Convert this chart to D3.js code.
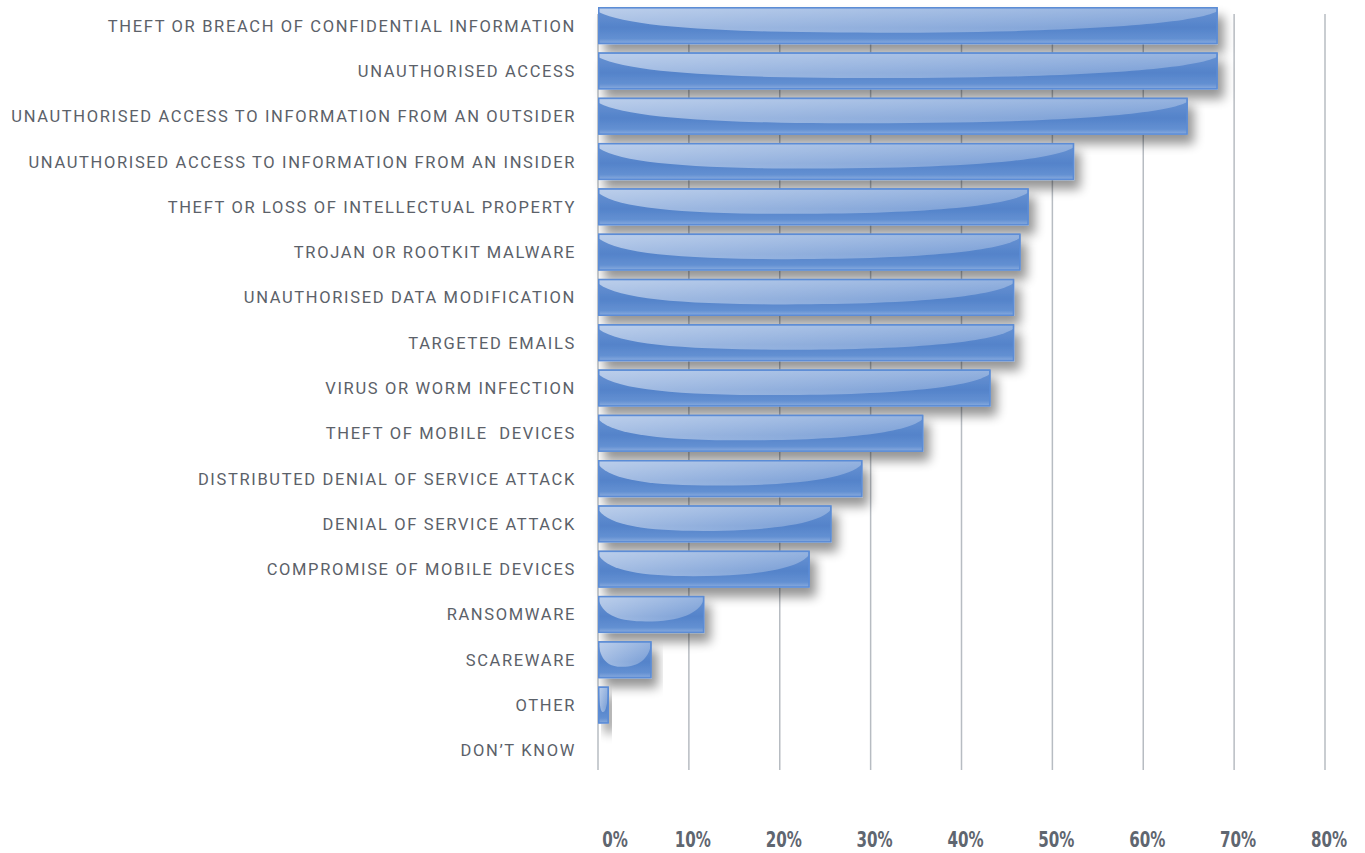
<!DOCTYPE html>
<html>
<head>
<meta charset="utf-8">
<script src="https://cdn.jsdelivr.net/npm/d3@7"></script>
<style>
  html, body { margin: 0; padding: 0; background: #ffffff; }
  svg { display: block; }
</style>
</head>
<body>
<svg id="chart" width="1365" height="853"></svg>
<script>
// Incident types, top to bottom
const categories = [
  "THEFT OR BREACH OF CONFIDENTIAL INFORMATION",
  "UNAUTHORISED ACCESS",
  "UNAUTHORISED ACCESS TO INFORMATION FROM AN OUTSIDER",
  "UNAUTHORISED ACCESS TO INFORMATION FROM AN INSIDER",
  "THEFT OR LOSS OF INTELLECTUAL PROPERTY",
  "TROJAN OR ROOTKIT MALWARE",
  "UNAUTHORISED DATA MODIFICATION",
  "TARGETED EMAILS",
  "VIRUS OR WORM INFECTION",
  "THEFT OF MOBILE  DEVICES",
  "DISTRIBUTED DENIAL OF SERVICE ATTACK",
  "DENIAL OF SERVICE ATTACK",
  "COMPROMISE OF MOBILE DEVICES",
  "RANSOMWARE",
  "SCAREWARE",
  "OTHER",
  "DON\u2019T KNOW"
];

// Share of respondents (%)
const values = [68.2, 68.2, 64.9, 52.4, 47.4, 46.5, 45.8, 45.8, 43.2, 35.8, 29.1, 25.7, 23.3, 11.7, 5.9, 1.2, 0];

// Axis ticks
const tickValues = [0, 10, 20, 30, 40, 50, 60, 70, 80];
const tickLabels = ["0%", "10%", "20%", "30%", "40%", "50%", "60%", "70%", "80%"];

const data = categories.map((c, i) => ({ category: c, value: values[i] }));

const svg = d3.select("#chart");

const x = d3.scaleLinear().domain([0, 80]).range([598, 1325]);
const y = d3.scaleBand().domain(categories).range([3, 773]).paddingInner(0.18).paddingOuter(0.09);

const defs = svg.append("defs");

// soft drop shadow under the bars
const shadow = defs.append("filter").attr("id", "barShadow")
  .attr("x", "-20%").attr("y", "-40%").attr("width", "140%").attr("height", "200%");
shadow.append("feGaussianBlur").attr("in", "SourceAlpha").attr("stdDeviation", 5.5).attr("result", "blur");
shadow.append("feOffset").attr("in", "blur").attr("dx", 6).attr("dy", 9).attr("result", "off");
shadow.append("feComponentTransfer").attr("in", "off").attr("result", "shade")
  .append("feFuncA").attr("type", "linear").attr("slope", 0.42);
const merge = shadow.append("feMerge");
merge.append("feMergeNode").attr("in", "shade");
merge.append("feMergeNode").attr("in", "SourceGraphic");

// bar body gradient
const body = defs.append("linearGradient").attr("id", "barBody")
  .attr("x1", 0).attr("y1", 0).attr("x2", 0).attr("y2", 1);
body.append("stop").attr("offset", "0%").attr("stop-color", "#6a94d3");
body.append("stop").attr("offset", "55%").attr("stop-color", "#5483ca");
body.append("stop").attr("offset", "85%").attr("stop-color", "#6390d2");
body.append("stop").attr("offset", "100%").attr("stop-color", "#8eafe0");

// glossy highlight gradient
const gloss = defs.append("linearGradient").attr("id", "barGloss")
  .attr("x1", 0).attr("y1", 0).attr("x2", 1).attr("y2", 0.4);
gloss.append("stop").attr("offset", "0%").attr("stop-color", "#ffffff").attr("stop-opacity", 0.55);
gloss.append("stop").attr("offset", "100%").attr("stop-color", "#ffffff").attr("stop-opacity", 0.26);

// vertical gridlines
svg.append("g").attr("class", "grid")
  .selectAll("line").data(tickValues).join("line")
  .attr("x1", d => x(d)).attr("x2", d => x(d))
  .attr("y1", 14).attr("y2", 770)
  .attr("stroke", "#b7bcc2").attr("stroke-width", 1.5);

// bars
const bars = svg.append("g").attr("class", "bars")
  .selectAll("g").data(data.filter(d => d.value > 0)).join("g")
  .attr("filter", "url(#barShadow)");

bars.append("rect")
  .attr("x", x(0))
  .attr("y", d => y(d.category))
  .attr("width", d => x(d.value) - x(0))
  .attr("height", y.bandwidth())
  .attr("fill", "url(#barBody)");

// curved highlight across the top of each bar
bars.append("path")
  .attr("fill", "url(#barGloss)")
  .attr("d", d => {
    const x0 = x(0) + 1, x1 = x(d.value) - 1;
    const w = x1 - x0;
    const t = y(d.category) + 1, h = y.bandwidth() - 2;
    const p = d3.path();
    p.moveTo(x0, t);
    p.lineTo(x0, t + 0.12 * h);
    p.bezierCurveTo(x0 + 0.05 * w, t + 0.55 * h, x0 + 0.2 * w, t + 0.7 * h, x0 + 0.45 * w, t + 0.7 * h);
    p.bezierCurveTo(x0 + 0.78 * w, t + 0.7 * h, x1 - 0.04 * w, t + 0.45 * h, x1, t + 0.1 * h);
    p.lineTo(x1, t);
    p.closePath();
    return p.toString();
  });

bars.append("rect")
  .attr("x", x(0) + 0.75)
  .attr("y", d => y(d.category) + 0.75)
  .attr("width", d => Math.max(0, x(d.value) - x(0) - 1.5))
  .attr("height", y.bandwidth() - 1.5)
  .attr("fill", "none")
  .attr("stroke", "#5b8cd6")
  .attr("stroke-width", 1.5);

// category labels
svg.append("g").attr("class", "labels")
  .selectAll("text").data(categories).join("text")
  .attr("x", 576)
  .attr("y", d => y(d) + y.bandwidth() / 2 + 6)
  .attr("text-anchor", "end")
  .attr("font-family", "Roboto, 'DejaVu Sans', sans-serif")
  .attr("font-size", 16.5)
  .attr("letter-spacing", 1.65)
  .attr("fill", "#5b6169")
  .style("white-space", "pre")
  .text(d => d);

// axis tick labels (condensed bold)
svg.append("g").attr("class", "ticks")
  .selectAll("text").data(tickValues).join("text")
  .attr("transform", (d, i) => `translate(${i === 0 ? x(d) + 17 : x(d) + 4},847) scale(0.8,1)`)
  .attr("text-anchor", "middle")
  .attr("font-family", "'DejaVu Sans Condensed', 'Roboto', sans-serif")
  .attr("font-weight", "bold")
  .attr("font-size", 21)
  .attr("fill", "#5f6670")
  .text((d, i) => tickLabels[i]);
</script>
</body>
</html>
